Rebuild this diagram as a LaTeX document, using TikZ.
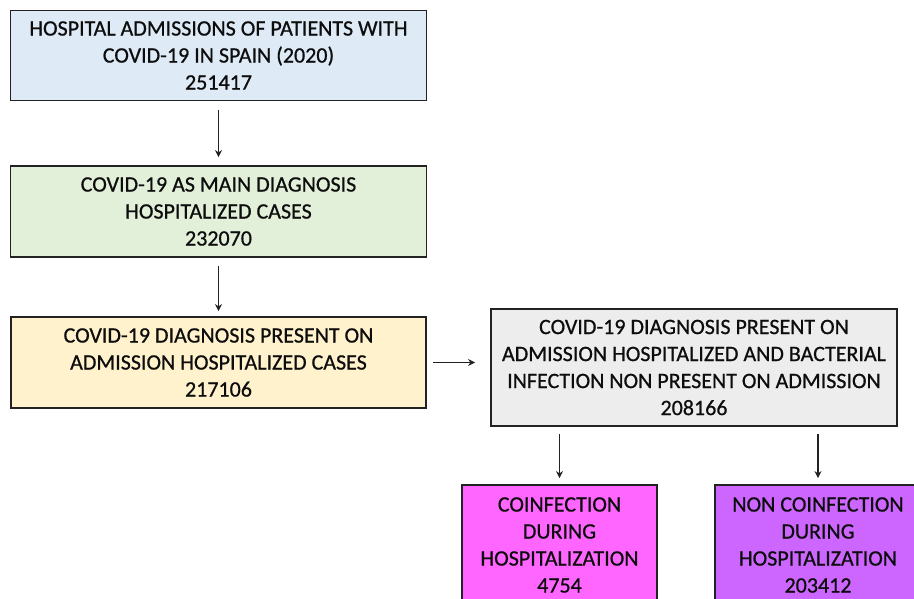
\documentclass[tikz,border=0pt]{standalone}
\usepackage{fontspec}
\setmainfont{Carlito}
\newfontfamily\boxfont{Carlito}[BoldFont=Carlito, BoldFeatures={FakeBold=0.7}]
\usetikzlibrary{arrows.meta}
\definecolor{cblue}{HTML}{DEEAF6}
\definecolor{cgreen}{HTML}{E2EFD9}
\definecolor{cyellow}{HTML}{FFF2CC}
\definecolor{cgray}{HTML}{EDEDED}
\definecolor{cpink}{HTML}{FF66FF}
\definecolor{cpurple}{HTML}{CC66FF}
\definecolor{cline}{HTML}{222222}
\tikzset{
  boxnode/.style={draw=cline, line width=1.8pt, inner sep=0pt, align=center,
    font=\boxfont\bfseries\fontsize{22}{27}\selectfont, text=black!95},
  arr/.style={draw=cline, line width=1.9pt, -{Stealth[length=7pt,width=7pt]}}
}
\begin{document}
\begin{tikzpicture}[x=1pt,y=-1pt]
\useasboundingbox (0,0) rectangle (914,598);
\clip (0,0) rectangle (914,598);
\fill[white] (0,0) rectangle (914,598);
\node[boxnode, fill=cblue, minimum width=416pt, minimum height=90pt] (b1) at (218.5,55.5)
  {HOSPITAL ADMISSIONS OF PATIENTS WITH\\COVID-19 IN SPAIN (2020)\\251417};
\node[boxnode, fill=cgreen, minimum width=416pt, minimum height=91pt] (b2) at (218.5,211.5)
  {COVID-19 AS MAIN DIAGNOSIS\\HOSPITALIZED CASES\\232070};
\node[boxnode, fill=cyellow, minimum width=415pt, minimum height=91pt] (b3) at (218.5,362.5)
  {COVID-19 DIAGNOSIS PRESENT ON\\ADMISSION HOSPITALIZED CASES\\217106};
\node[boxnode, fill=cgray, minimum width=406pt, minimum height=117pt] (b4) at (694,367.5)
  {COVID-19 DIAGNOSIS PRESENT ON\\ADMISSION HOSPITALIZED AND BACTERIAL\\INFECTION NON PRESENT ON ADMISSION\\208166};
\node[boxnode, fill=cpink, minimum width=195pt, minimum height=120pt] (b5) at (559.5,545)
  {COINFECTION\\DURING\\HOSPITALIZATION\\4754};
\node[boxnode, fill=cpurple, minimum width=206pt, minimum height=120pt] (b6) at (818,545)
  {NON COINFECTION\\DURING\\HOSPITALIZATION\\203412};
\draw[arr, shorten <=9pt, shorten >=8pt] (b1) -- (b2);
\draw[arr, shorten <=8pt, shorten >=5pt] (b2) -- (b3);
\draw[arr, shorten <=6pt, shorten >=15pt] (b3.east) -- (b3.east -| b4.west);
\draw[arr, shorten <=7pt, shorten >=6pt] (b5.north |- b4.south) -- (b5.north);
\draw[arr, shorten <=7pt, shorten >=6pt] (b6.north |- b4.south) -- (b6.north);
\end{tikzpicture}
\end{document}
